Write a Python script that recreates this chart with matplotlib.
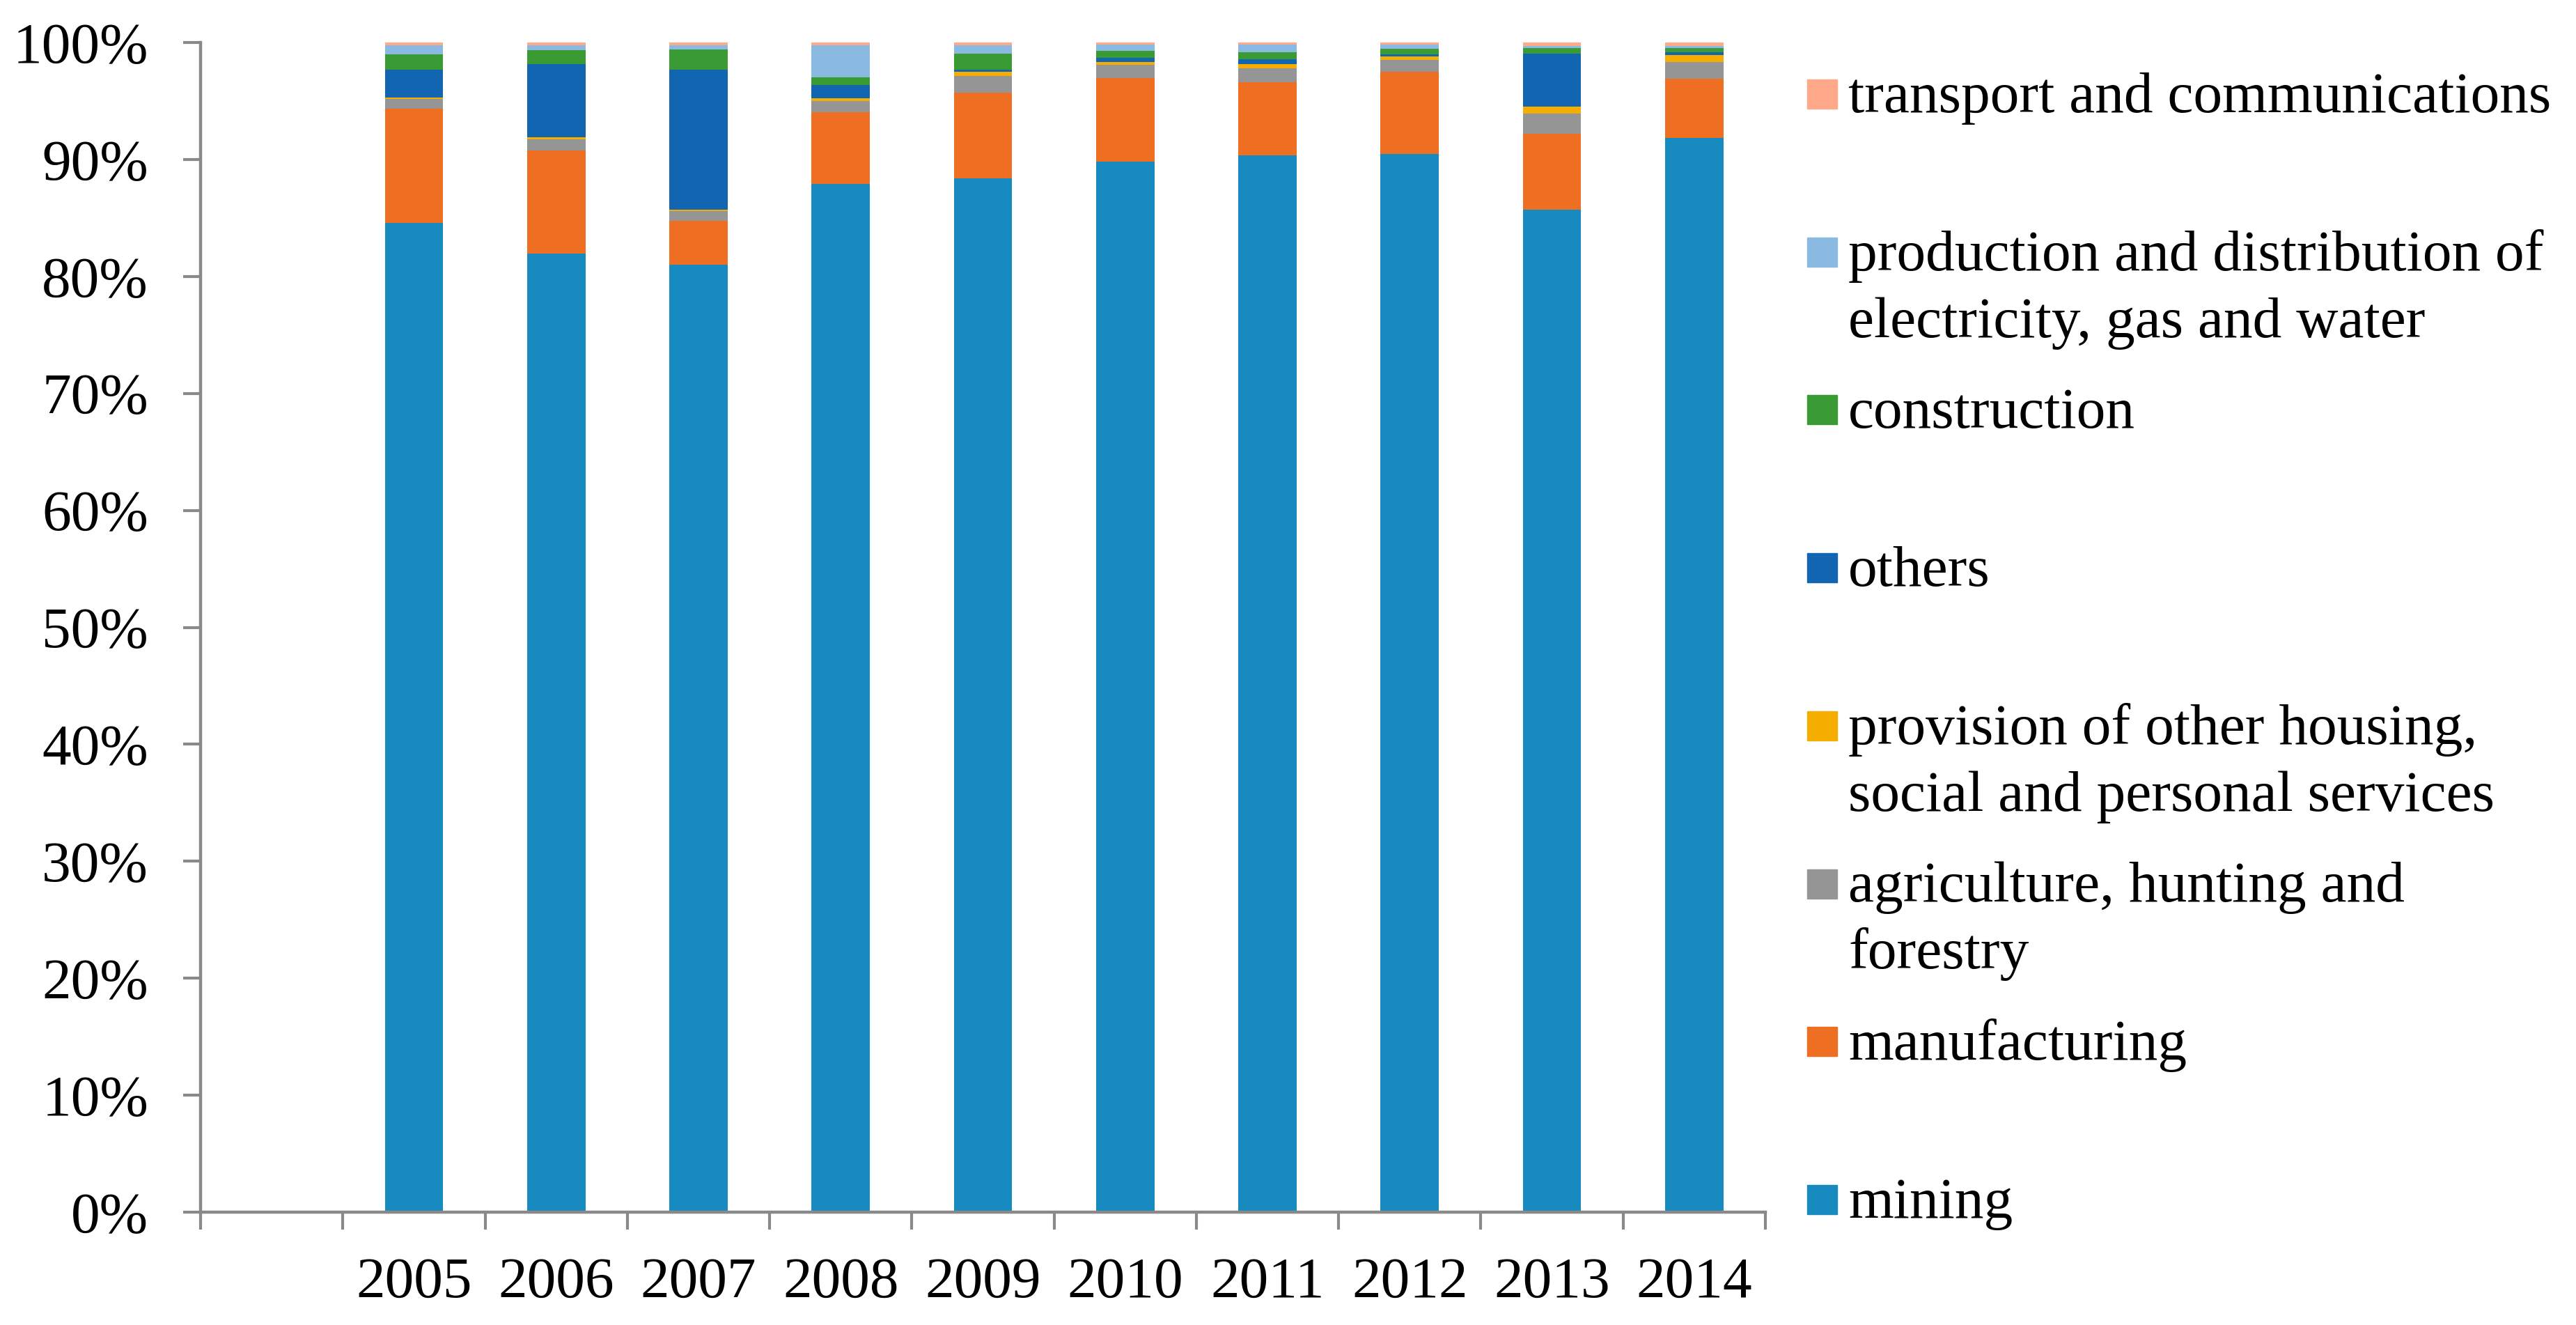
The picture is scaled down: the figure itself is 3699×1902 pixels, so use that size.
import matplotlib.pyplot as plt
from matplotlib.patches import Rectangle
import numpy as np

plt.rcParams['font.family'] = ['Liberation Serif', 'DejaVu Serif']

years = ['2005', '2006', '2007', '2008', '2009', '2010', '2011', '2012', '2013', '2014']

# shares in % (bottom to top)
mining = [84.57, 82.0, 81.05, 87.9, 88.4, 89.84, 90.37, 90.49, 85.74, 91.86]
manufacturing = [9.8, 8.81, 3.75, 6.17, 7.32, 7.14, 6.25, 7.02, 6.49, 5.06]
agriculture = [0.83, 0.95, 0.83, 0.95, 1.43, 1.13, 1.19, 1.01, 1.73, 1.43]
provision = [0.12, 0.18, 0.12, 0.24, 0.36, 0.24, 0.36, 0.3, 0.6, 0.6]
others = [2.38, 6.25, 11.96, 1.13, 0.18, 0.36, 0.42, 0.18, 4.52, 0.24]
construction = [1.31, 1.19, 1.73, 0.65, 1.37, 0.6, 0.6, 0.48, 0.48, 0.36]
electricity = [0.77, 0.42, 0.36, 2.74, 0.71, 0.54, 0.65, 0.36, 0.18, 0.18]
transport = [0.24, 0.24, 0.24, 0.24, 0.24, 0.18, 0.18, 0.18, 0.3, 0.3]

series = [mining, manufacturing, agriculture, provision, others,
          construction, electricity, transport]
labels = [['mining'],
          ['manufacturing'],
          ['agriculture, hunting and', 'forestry'],
          ['provision of other housing,', 'social and personal services'],
          ['others'],
          ['construction'],
          ['production and distribution of', 'electricity, gas and water'],
          ['transport and communications']]
colors = ['#178BC0', '#EE6F21', '#959595', '#F5AE00', '#1265B1',
          '#3A9A33', '#8AB9E1', '#FFA98A']

W, H = 3699, 1902
fig = plt.figure(figsize=(W / 100, H / 100), dpi=100)
ax = fig.add_axes([288 / W, 1 - 1740 / H, (2535 - 288) / W, (1740 - 61) / H])

data = np.array(series)
data = data / data.sum(axis=0) * 100
x = np.arange(1, len(years) + 1)
bottom = np.zeros(len(years))
for vals, c in zip(data, colors):
    ax.bar(x, vals, 0.41, bottom=bottom, color=c, linewidth=0)
    bottom += vals

ax.set_xlim(-0.5, 10.5)
ax.set_ylim(0, 100)

gray = '#898989'
for s in ['top', 'right']:
    ax.spines[s].set_visible(False)
for s in ['left', 'bottom']:
    ax.spines[s].set_color(gray)
    ax.spines[s].set_linewidth(3.2)

ax.set_yticks(np.arange(0, 101, 10))
ax.set_yticklabels([f'{v}%' for v in range(0, 101, 10)])
ax.set_xticks(np.arange(-0.5, 11, 1))
ax.set_xticklabels([])
ax.set_xticks(x, minor=True)
ax.set_xticklabels(years, minor=True)
ax.tick_params(axis='both', which='major', length=18, width=3, color=gray,
               labelsize=60, direction='out')
ax.tick_params(axis='y', pad=36)
ax.tick_params(axis='x', which='minor', length=0, labelsize=60, pad=46)

# legend, top entry is the last series
base0 = 161
step = 226.7
line_gap = 96
for i, k in enumerate(range(len(series) - 1, -1, -1)):
    b = base0 + i * step
    fig.patches.append(Rectangle((2595 / W, 1 - (b - 5) / H), 43 / W, 42 / H,
                                 transform=fig.transFigure, color=colors[k]))
    for j, line in enumerate(labels[k]):
        fig.text(2654 / W, 1 - (b + j * line_gap) / H, line, fontsize=60,
                 va='baseline', ha='left')

fig.savefig('out.png', dpi=100)
